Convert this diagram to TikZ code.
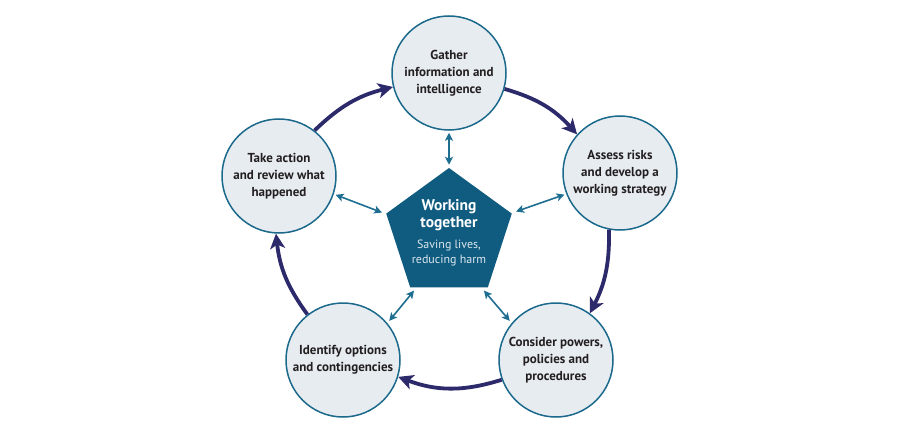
\documentclass[tikz,border=0pt]{standalone}
\usepackage{fontspec}
\setmainfont{PT Sans}
\usetikzlibrary{arrows.meta,shapes.geometric}
\definecolor{navy}{HTML}{2D2A6C}
\definecolor{teal}{HTML}{1E6E91}
\definecolor{pentfill}{HTML}{0F5C80}
\definecolor{circfill}{HTML}{E7ECF1}
\definecolor{circline}{HTML}{1B6A8C}
\definecolor{txt}{HTML}{231F20}
\definecolor{subtxt}{HTML}{DCE6EE}
\tikzset{
  stage/.style={circle, draw=circline, line width=1.5pt, fill=circfill, minimum size=114pt, inner sep=0pt,
    align=center, text=txt, font=\bfseries\fontsize{13}{17}\selectfont},
  cyclearrow/.style={draw=navy, line width=3.8pt, -{Stealth[length=15pt,width=15pt,inset=4pt]}},
  linkarrow/.style={draw=teal, line width=1.6pt, {Stealth[length=8pt,width=8pt,inset=2pt]}-{Stealth[length=8pt,width=8pt,inset=2pt]}}
}
\begin{document}
\begin{tikzpicture}[x=1pt,y=1pt]
\useasboundingbox (0,0) rectangle (900,440);
\node[regular polygon, regular polygon sides=5, minimum size=132pt, inner sep=0pt, fill=pentfill] (pent) at (449,206) {};
\node[align=center, text=white, font=\bfseries\fontsize{15.5}{17.5}\selectfont] (ptitle) at (449,225) {Working\\together};
\node[align=center, text=subtxt, font=\fontsize{12}{14.5}\selectfont] (psub) at (449,187) {Saving lives,\\reducing harm};

\node[stage] (gather) at (449,367) {Gather\\information and\\intelligence};
\node[stage] (assess) at (620,267) {Assess risks\\and develop a\\working strategy};
\node[stage] (consider) at (556,80) {Consider powers,\\policies and\\procedures};
\node[stage] (identify) at (343,80) {Identify options\\and contingencies};
\node[stage] (take) at (279,264) {Take action\\and review what\\happened};

\draw[cyclearrow] (gather.-16) to[bend left=16] (assess.138);
\draw[cyclearrow] (assess.-101) to[bend left=14] (consider.54);
\draw[cyclearrow] (consider.-160) to[bend left=19] (identify.-17);
\draw[cyclearrow] (identify.128) to[bend left=15] (take.-93);
\draw[cyclearrow] (take.52) to[bend left=15] (gather.-166);

\draw[linkarrow] ([yshift=-2pt]gather.south) -- ([yshift=3pt]pent.corner 1);
\draw[linkarrow] ([xshift=-2pt]assess.202) -- ([xshift=4pt,yshift=2pt]pent.corner 5);
\draw[linkarrow] ([xshift=2pt]take.-19) -- ([xshift=-4pt,yshift=1pt]pent.corner 2);
\draw[linkarrow] ([xshift=-2pt,yshift=2pt]consider.140) -- ([xshift=-4pt,yshift=-3pt]pent.corner 4);
\draw[linkarrow] ([xshift=2pt,yshift=2pt]identify.40) -- ([xshift=4pt,yshift=-3pt]pent.corner 3);
\end{tikzpicture}
\end{document}
